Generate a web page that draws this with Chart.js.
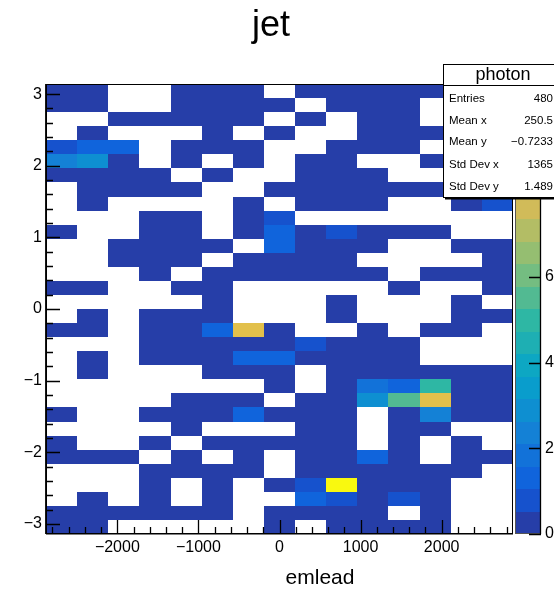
<!DOCTYPE html>
<html><head><meta charset="utf-8">
<script src="https://cdn.jsdelivr.net/npm/chart.js@4/dist/chart.umd.min.js"></script>
<style>html,body{margin:0;padding:0;background:#fff;overflow:hidden}#wrap{width:554px;height:590px}</style>
</head><body><div id="wrap"><canvas id="c" width="554" height="590"></canvas></div>
<script>
// ---------------- data ----------------
const chartTitle = 'jet';
const xAxisTitle = 'emlead';
const statsTitle = 'photon';
const statsLabels = ['Entries', 'Mean x', 'Mean y', 'Std Dev x', 'Std Dev y'];
const statsValues = ['480', '250.5', '\u22120.7233', '1365', '1.489'];
const xRange = [-2880, 2880];
const nBinsX = 15;
const yRange = [-Math.PI, Math.PI];
const nBinsY = 32;
const zRange = [0, 10.5];
const nContours = 20;
const xTicks = [-2000, -1000, 0, 1000, 2000];
const yTicks = [-3, -2, -1, 0, 1, 2, 3];
const zTicks = [0, 2, 4, 6, 8, 10];
// bin contents, rows from top (y = +pi) to bottom (y = -pi), columns from left
const binContents = [
  [0.4,0.4,0,0,0.4,0.4,0.4,0,0.4,0.4,0.4,0.4,0.4,0.4,0.4],
  [0.4,0.4,0,0,0.4,0.4,0.4,0.4,0,0.4,0.4,0.4,0,0.4,0],
  [0,0,0.4,0.4,0.4,0.4,0.4,0,0.4,0,0.4,0.4,0,0.4,0.4],
  [0,0.4,0,0,0,0.4,0,0.4,0,0,0.4,0.4,0.4,0,0.4],
  [0.8,1.3,1.3,0,0.4,0.4,0.4,0,0,0.4,0.4,0.4,0,0.4,0.4],
  [2.4,2.9,0.4,0,0.4,0,0.4,0,0.4,0.4,0,0,0.4,0.4,0],
  [0.4,0.4,0.4,0.4,0,0.4,0,0,0.4,0.4,0.4,0,0,0.4,0.4],
  [0,0.4,0.4,0.4,0.4,0,0,0.4,0.4,0.4,0.4,0.4,0.4,0.4,0.4],
  [0,0.4,0,0,0,0,0.4,0,0.4,0.4,0.4,0,0,0.4,0.8],
  [0,0,0,0.4,0.4,0,0.4,0.8,0,0,0,0,0,0,0],
  [0.4,0,0,0.4,0.4,0,0.4,1.3,0.4,0.8,0.4,0.4,0.4,0,0],
  [0,0,0.4,0.4,0.4,0.4,0,1.3,0.4,0.4,0.4,0,0,0.4,0.4],
  [0,0,0.4,0.4,0.4,0,0.4,0.4,0.4,0.4,0,0,0,0,0.4],
  [0,0,0,0.4,0,0.4,0.4,0.4,0.4,0.4,0.4,0,0.4,0.4,0.4],
  [0.4,0.4,0,0,0.4,0.4,0,0,0,0,0,0.4,0,0,0.4],
  [0,0,0,0,0,0.4,0,0,0,0.4,0,0,0,0.4,0],
  [0,0.4,0,0.4,0.4,0.4,0,0,0,0.4,0,0,0,0.4,0.4],
  [0.4,0.4,0,0.4,0.4,1.3,8.1,0.4,0,0,0.4,0,0.4,0.4,0],
  [0,0,0,0.4,0.4,0.4,0.4,0.4,0.8,0.4,0.4,0.4,0,0,0],
  [0,0.4,0,0.4,0.4,0.4,1.3,1.3,0.4,0.4,0.4,0.4,0,0,0],
  [0,0.4,0,0,0,0.4,0.4,0.4,0,0.4,0.4,0.4,0.4,0.4,0.4],
  [0,0,0,0,0,0,0,0.4,0,0.4,1.8,1.3,5.0,0.4,0.4],
  [0,0,0,0,0.4,0.4,0.4,0,0.4,0.4,2.9,5.5,8.1,0.4,0.4],
  [0.4,0,0,0.4,0.4,0.4,1.3,0.4,0.4,0.4,0,0.4,2.3,0.4,0.4],
  [0,0,0,0,0.4,0,0,0,0.4,0.4,0,0.4,0.4,0,0],
  [0.4,0,0,0.4,0,0.4,0.4,0.4,0.4,0.4,0,0.4,0,0.4,0],
  [0.4,0.4,0.4,0,0.4,0,0.4,0,0.4,0.4,1.3,0.4,0,0.4,0.4],
  [0,0,0,0.4,0.4,0.4,0.4,0,0.4,0.4,0.4,0.4,0.4,0.4,0],
  [0,0,0,0.4,0,0.4,0,0.4,0.8,10,0.4,0.4,0.4,0,0],
  [0,0.4,0,0.4,0,0.4,0,0,1.3,0.8,0.4,0.8,0.4,0,0],
  [0.4,0.4,0.4,0.4,0.4,0.4,0,0.4,0.4,0.4,0.4,0,0.4,0,0],
  [0.4,0.4,0,0,0,0,0,0.4,0,0.4,0.4,0.4,0.4,0,0]
];

// ---------------- palette (ROOT kBird) ----------------
const FONT = '"Liberation Sans", Arial, Helvetica, sans-serif';
const birdStops = [0, 0.125, 0.25, 0.375, 0.5, 0.625, 0.75, 0.875, 1];
const birdR = [0.2082, 0.0592, 0.0780, 0.0232, 0.1802, 0.5301, 0.8186, 0.9956, 0.9764];
const birdG = [0.1664, 0.3599, 0.5041, 0.6419, 0.7178, 0.7492, 0.7328, 0.7862, 0.9832];
const birdB = [0.5293, 0.8684, 0.8385, 0.7914, 0.6425, 0.4662, 0.3499, 0.1968, 0.0539];
const NCOL = 255;
const birdTable = [];
for (let g = 1; g < birdStops.length; g++) {
  const lo = Math.floor(NCOL * birdStops[g - 1]), hi = Math.floor(NCOL * birdStops[g]);
  const m = hi - lo;
  for (let c = 0; c < m; c++) {
    const r = birdR[g - 1] + c * (birdR[g] - birdR[g - 1]) / m;
    const gg = birdG[g - 1] + c * (birdG[g] - birdG[g - 1]) / m;
    const b = birdB[g - 1] + c * (birdB[g] - birdB[g - 1]) / m;
    birdTable.push('rgb(' + Math.round(r * 255) + ',' + Math.round(gg * 255) + ',' + Math.round(b * 255) + ')');
  }
}
function bandColor(k) {
  let idx = Math.floor((k + 0.99) * NCOL / nContours);
  if (idx > NCOL - 1) idx = NCOL - 1;
  return birdTable[idx];
}
function colorForValue(v) {
  let k = Math.floor(0.01 + (v - zRange[0]) * nContours / (zRange[1] - zRange[0]));
  if (k > nContours - 1) k = nContours - 1;
  return bandColor(k);
}

const binW = (xRange[1] - xRange[0]) / nBinsX;
const binH = (yRange[1] - yRange[0]) / nBinsY;
const cells = [];
binContents.forEach((row, r) => row.forEach((v, c) => {
  if (v > 0) cells.push({ x: xRange[0] + (c + 0.5) * binW, y: yRange[1] - (r + 0.5) * binH, v: v });
}));

function fmt(v) {
  const s = String(Math.abs(Math.round(v * 1000) / 1000));
  return v < 0 ? '\u2212' + s : s;
}

// ---------------- plugins ----------------
const heatmapPlugin = {
  id: 'heatmap',
  beforeDatasetsDraw(chart) {
    const { ctx } = chart;
    const xs = chart.scales.x, ys = chart.scales.y;
    ctx.save();
    for (const p of chart.data.datasets[0].data) {
      const x0 = Math.round(xs.getPixelForValue(p.x - binW / 2));
      const x1 = Math.round(xs.getPixelForValue(p.x + binW / 2));
      const y0 = Math.round(ys.getPixelForValue(p.y + binH / 2));
      const y1 = Math.round(ys.getPixelForValue(p.y - binH / 2));
      ctx.fillStyle = colorForValue(p.v);
      ctx.fillRect(x0, y0, x1 - x0, y1 - y0);
    }
    ctx.restore();
  },
  afterDatasetsDraw(chart) {
    const { ctx, chartArea: ca } = chart;
    const xs = chart.scales.x, ys = chart.scales.y, zs = chart.scales.z;
    ctx.save();
    ctx.strokeStyle = '#000';
    ctx.lineWidth = 1;
    // frame
    ctx.strokeRect(ca.left + 0.5, ca.top + 0.5, ca.right - ca.left - 1, ca.bottom - ca.top - 1);
    ctx.lineWidth = 1.4;
    ctx.beginPath();
    ctx.moveTo(ca.left - 0.2, ca.top); ctx.lineTo(ca.left - 0.2, ca.bottom);
    ctx.moveTo(ca.left, ca.bottom - 0.3); ctx.lineTo(ca.right, ca.bottom - 0.3);
    ctx.stroke();
    ctx.lineWidth = 1.3;
    ctx.beginPath();
    // x ticks (major + minor)
    for (let v = -2800; v <= 2800; v += 200) {
      const px = Math.round(xs.getPixelForValue(v)) + 0.5;
      const major = xTicks.includes(v);
      ctx.moveTo(px, ca.bottom); ctx.lineTo(px, ca.bottom - (major ? 14 : 7));
    }
    // y ticks
    for (let i = -15; i <= 15; i++) {
      const v = i * 0.2;
      const py = Math.round(ys.getPixelForValue(v)) + 0.5;
      const major = i % 5 === 0;
      ctx.moveTo(ca.left, py); ctx.lineTo(ca.left + (major ? 14 : 7), py);
    }
    ctx.stroke();
    // palette
    const pl = ca.right + 2, pr = ca.right + 28;
    for (let k = 0; k < nContours; k++) {
      const zl = zRange[0] + k * (zRange[1] - zRange[0]) / nContours;
      const zh = zRange[0] + (k + 1) * (zRange[1] - zRange[0]) / nContours;
      const yb = Math.round(zs.getPixelForValue(zl));
      const yt = Math.round(zs.getPixelForValue(zh));
      ctx.fillStyle = bandColor(k);
      ctx.fillRect(pl, yt, pr - pl, yb - yt);
    }
    ctx.strokeStyle = '#555';
    ctx.lineWidth = 1;
    ctx.strokeRect(pl + 0.5, ca.top + 0.5, pr - pl - 1, ca.bottom - ca.top - 1);
    ctx.strokeStyle = '#000';
    ctx.lineWidth = 1.3;
    ctx.beginPath();
    ctx.moveTo(pr - 0.5, ca.top); ctx.lineTo(pr - 0.5, ca.bottom);
    for (const v of zTicks) {
      const py = Math.round(zs.getPixelForValue(v)) + 0.5;
      ctx.moveTo(pr, py); ctx.lineTo(pr - 12, py);
    }
    ctx.stroke();
    ctx.restore();
  },
  afterDraw(chart) {
    const { ctx } = chart;
    ctx.save();
    ctx.fillStyle = '#000';
    // title
    ctx.font = '36px ' + FONT;
    ctx.textAlign = 'center';
    ctx.textBaseline = 'alphabetic';
    ctx.fillText(chartTitle, 271, 36);
    // x axis title
    ctx.font = '21px ' + FONT;
    ctx.fillText(xAxisTitle, 320, 584);
    // stats box
    const bl = 443, bt = 64, br = 562, bb = 197;
    ctx.fillStyle = '#fff';
    ctx.fillRect(bl, bt, br - bl, bb - bt);
    ctx.strokeStyle = '#000';
    ctx.lineWidth = 1;
    ctx.strokeRect(bl + 0.5, bt + 0.5, br - bl, bb - bt);
    ctx.lineWidth = 2;
    ctx.beginPath(); ctx.moveTo(bl + 2, bb + 1.5); ctx.lineTo(br, bb + 1.5); ctx.stroke();
    ctx.lineWidth = 1;
    ctx.beginPath(); ctx.moveTo(bl, 85.5); ctx.lineTo(br, 85.5); ctx.stroke();
    ctx.fillStyle = '#000';
    ctx.font = '18px ' + FONT;
    ctx.textAlign = 'center';
    ctx.textBaseline = 'middle';
    ctx.fillText(statsTitle, 503, 75);
    ctx.font = '11.5px ' + FONT;
    const rowsY = [98.5, 120.5, 142, 165, 186.5];
    statsLabels.forEach((lab, i) => {
      ctx.textAlign = 'left';
      ctx.fillText(lab, 449, rowsY[i]);
      ctx.textAlign = 'right';
      ctx.fillText(statsValues[i], 553, rowsY[i]);
    });
    ctx.restore();
  }
};

const tickFont = { family: FONT, size: 16 };
new Chart(document.getElementById('c'), {
  type: 'scatter',
  data: { datasets: [{ data: cells, pointRadius: 0, pointHoverRadius: 0, showLine: false }] },
  options: {
    responsive: false,
    devicePixelRatio: 1,
    animation: false,
    events: [],
    layout: { padding: { top: 84, left: 0, right: 0, bottom: 0 } },
    plugins: { legend: { display: false }, tooltip: { enabled: false }, title: { display: false } },
    scales: {
      x: {
        type: 'linear', position: 'bottom', min: xRange[0], max: xRange[1],
        afterBuildTicks: s => { s.ticks = xTicks.map(v => ({ value: v })); },
        afterFit: s => { s.height = 56; },
        ticks: { font: tickFont, color: '#000', padding: 4, maxRotation: 0, autoSkip: false, callback: v => fmt(v) },
        grid: { display: false, drawTicks: false }, border: { display: false }
      },
      y: {
        type: 'linear', position: 'left', min: yRange[0], max: yRange[1],
        afterBuildTicks: s => { s.ticks = yTicks.map(v => ({ value: v })); },
        afterFit: s => { s.width = 46; },
        ticks: { font: tickFont, color: '#000', padding: 4, autoSkip: false, callback: v => fmt(v) },
        grid: { display: false, drawTicks: false }, border: { display: false }
      },
      z: {
        type: 'linear', position: 'right', min: zRange[0], max: zRange[1],
        afterBuildTicks: s => { s.ticks = zTicks.map(v => ({ value: v })); },
        afterFit: s => { s.width = 41; },
        ticks: { font: tickFont, color: '#000', padding: 32, autoSkip: false, callback: v => fmt(v) },
        grid: { display: false, drawTicks: false }, border: { display: false }
      }
    }
  },
  plugins: [heatmapPlugin]
});
</script>
</body></html>
